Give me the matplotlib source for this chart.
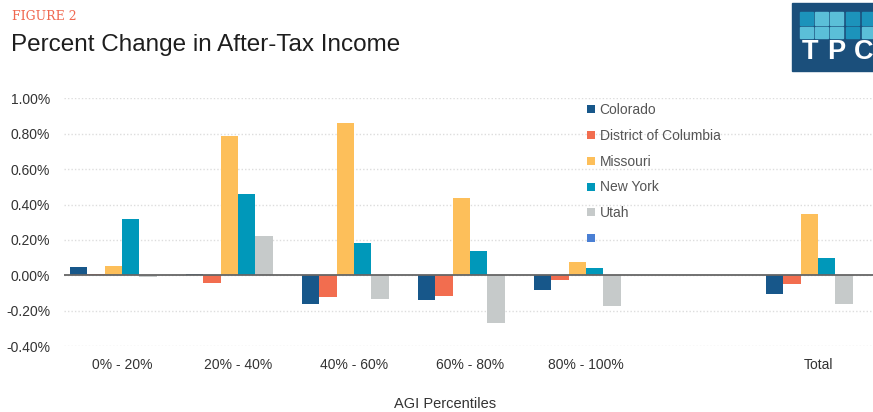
import matplotlib
matplotlib.use("Agg")
import matplotlib.pyplot as plt
import numpy as np
from matplotlib.lines import Line2D
from matplotlib.patches import Rectangle

categories = ["0% - 20%", "20% - 40%", "40% - 60%", "60% - 80%", "80% - 100%", "", "Total"]
series_names = ["Colorado", "District of Columbia", "Missouri", "New York", "Utah", ""]
colorado = [0.045, 0.01, -0.164, -0.141, -0.083, np.nan, -0.104]
dc       = [0.008, -0.045, -0.124, -0.117, -0.028, np.nan, -0.051]
missouri = [0.054, 0.789, 0.862, 0.438, 0.077, np.nan, 0.348]
new_york = [0.320, 0.458, 0.182, 0.137, 0.040, np.nan, 0.100]
utah     = [-0.010, 0.220, -0.134, -0.270, -0.172, np.nan, -0.164]
blank    = [np.nan] * 7
yticks = [-0.4, -0.2, 0.0, 0.2, 0.4, 0.6, 0.8, 1.0]

colors = ["#17578a", "#f26d4f", "#fdbf5a", "#0098ba", "#c6caca", "#4a7fd4"]
series = [colorado, dc, missouri, new_york, utah, blank]

plt.rcParams['font.family'] = ['Liberation Sans', 'DejaVu Sans']

fig = plt.figure(figsize=(8.73, 4.12), dpi=100)
W, H = 873, 412
ax = fig.add_axes([64 / W, 1 - 346.1 / H, 812 / W, (346.1 - 98.3) / H])

x = np.arange(len(categories))
bw = 0.15
for i, (vals, c) in enumerate(zip(series, colors)):
    ax.bar(x + (i - 2.5) * bw, vals, width=bw, color=c, linewidth=0, zorder=3)

ax.set_xlim(-0.5, 6.5)
ax.set_ylim(-0.4, 1.0)
ax.set_yticks(yticks)
ax.set_yticklabels([f"{v:.2f}%" for v in yticks])
ax.set_xticks(x)
ax.set_xticklabels(categories)
ax.tick_params(axis='both', length=0, labelsize=10, colors="#333333")
ax.tick_params(axis='y', pad=10)
ax.tick_params(axis='x', pad=8.5)
for s in ax.spines.values():
    s.set_visible(False)
ax.grid(axis='y', color="#dddddd", linestyle=(0, (1, 1.5)), linewidth=1, zorder=0)
ax.axhline(0, color="#666666", linewidth=1.3, zorder=4)

fig.text(445 / W, 1 - 404 / H, "AGI Percentiles", fontsize=10.5, color="#333333",
         ha='center', va='center')

handles = [Line2D([0], [0], marker='s', linestyle='none', markersize=5.5,
                  markerfacecolor=c, markeredgewidth=0) for c in colors]
leg = ax.legend(handles, series_names, loc='upper left',
                bbox_to_anchor=(587 / W, 1 - 103 / H), bbox_transform=fig.transFigure,
                frameon=False, fontsize=10, handlelength=0.6, handletextpad=0.3,
                labelspacing=0.85, borderaxespad=0, borderpad=0)
for t in leg.get_texts():
    t.set_color("#555555")

fig.text(12 / W, 1 - 17 / H, "FIGURE 2", fontsize=9, color="#f0674f",
         family=['DejaVu Serif'], va='center', ha='left')
fig.text(11 / W, 1 - 45 / H, "Percent Change in After-Tax Income", fontsize=17.5,
         color="#1e1e1e", va='center', ha='left')

# TPC logo
fig.patches.append(Rectangle((792 / W, 1 - 71 / H), 81 / W, 68 / H,
                             transform=fig.transFigure, color="#1b4f7b", zorder=1))
sq_cols = [800, 815, 830, 846, 862]
light = "#5bbfd8"
dark = "#1c93bb"
row_colors = [[dark, light, light, dark, dark], [light, light, light, dark, light]]
for r, (y0, y1) in enumerate([(12, 25), (27, 38)]):
    for ci, cx in enumerate(sq_cols):
        fig.patches.append(Rectangle((cx / W, 1 - y1 / H), 13 / W, (y1 - y0) / H,
                                     transform=fig.transFigure,
                                     color=row_colors[r][ci], zorder=2))
for letter, cx in zip("TPC", [810, 836, 864]):
    fig.text(cx / W, 1 - 59 / H, letter, fontsize=19.5, fontweight='bold', color="white",
             va='baseline', ha='center', zorder=3)

fig.savefig("out.png", dpi=100)
